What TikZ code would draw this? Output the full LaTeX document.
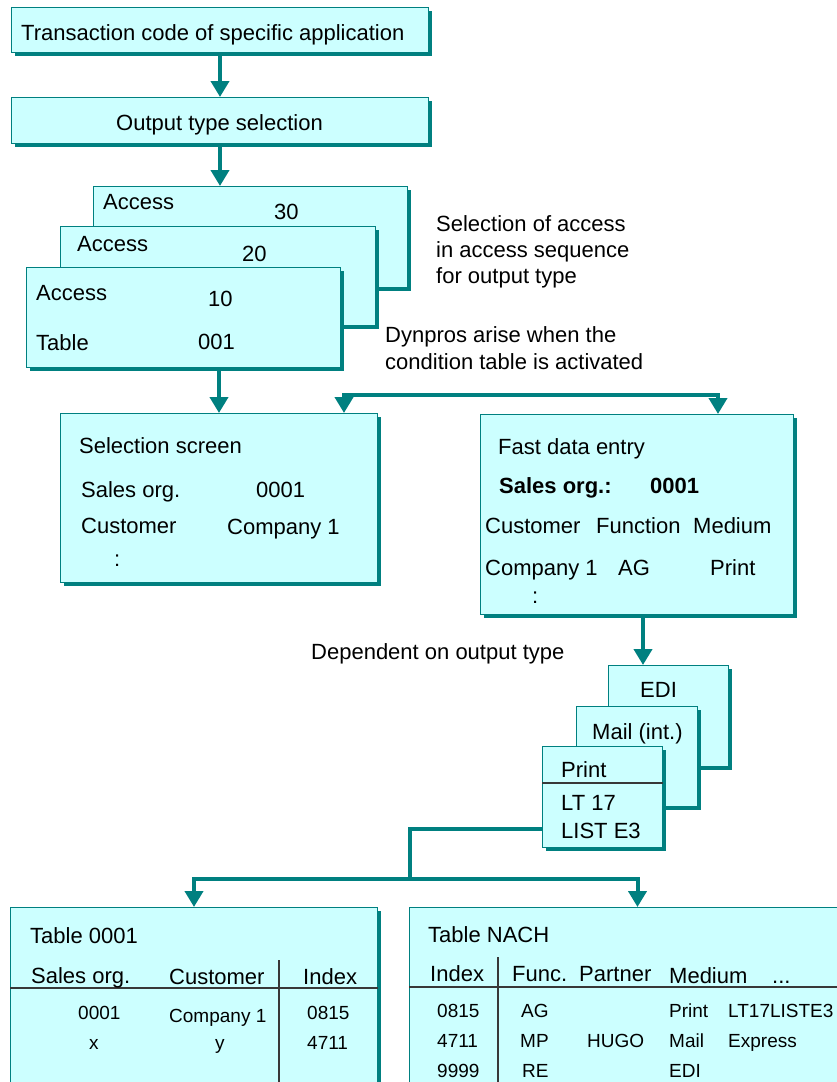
\documentclass[tikz,border=0pt]{standalone}
\usepackage{fontspec}
\setmainfont{Liberation Sans}
\usetikzlibrary{arrows.meta}
\usetikzlibrary{shadows}
\usetikzlibrary{calc}

\definecolor{tuerkis}{HTML}{008080}
\definecolor{hellcyan}{HTML}{CCFFFF}
\definecolor{gitterfarbe}{HTML}{383838}

\begin{document}
\begin{tikzpicture}[x=1pt, y=-1pt, >={Triangle[width=18pt,length=16pt]},
    box/.style={draw=tuerkis, line width=1pt, fill=hellcyan, inner sep=0pt, anchor=north west,
        drop shadow={shadow xshift=3.5pt, shadow yshift=-3.5pt, fill=tuerkis, opacity=1}},
    txt/.style={anchor=base west, inner sep=0pt, font=\fontsize{22}{26}\selectfont},
    klein/.style={anchor=base west, inner sep=0pt, font=\fontsize{19}{23}\selectfont},
    fluss/.style={draw=tuerkis, line width=4pt},
    gitter/.style={draw=gitterfarbe, line width=1.3pt}]

    \useasboundingbox (0,0) rectangle (837,1082);
    \clip (0,0) rectangle (837,1082);

    % Kaesten oben
    \node[box, minimum width=417pt, minimum height=45pt] (tcode) at (11,7) {};
    \node[box, minimum width=417pt, minimum height=46pt] (otsel) at (11,97) {};
    \node[txt] (tcodetxt) at (21,40) {Transaction code of specific application};
    \node[txt, anchor=base] (otseltxt) at (219.5,130) {Output type selection};

    % Zugriffsfolge
    \node[box, minimum width=314pt, minimum height=101pt] (acc30) at (93,186) {};
    \node[box, minimum width=315pt, minimum height=99pt] (acc20) at (60,226) {};
    \node[box, minimum width=314pt, minimum height=100pt] (acc10) at (26,267) {};
    \node[txt] (acc30a) at (103,209) {Access};
    \node[txt] (acc30b) at (274,219) {30};
    \node[txt] (acc20a) at (77,251) {Access};
    \node[txt] (acc20b) at (242,261) {20};
    \node[txt] (acc10a) at (36,300) {Access};
    \node[txt] (acc10b) at (208,306) {10};
    \node[txt] (tab10a) at (36,350) {Table};
    \node[txt] (tab10b) at (198,349) {001};

    \node[txt] (notiz1) at (436,231) {Selection of access};
    \node[txt] (notiz2) at (436,257) {in access sequence};
    \node[txt] (notiz3) at (436,283) {for output type};
    \node[txt] (notiz4) at (385,342) {Dynpros arise when the};
    \node[txt] (notiz5) at (385,369) {condition table is activated};

    % Dynpros
    \node[box, minimum width=317pt, minimum height=169pt] (sel) at (60,413) {};
    \node[txt] (sel1) at (79,453) {Selection screen};
    \node[txt] (sel2) at (81,497) {Sales org.};
    \node[txt] (sel3) at (256,497) {0001};
    \node[txt] (sel4) at (81,533) {Customer};
    \node[txt] (sel5) at (227,534) {Company 1};
    \node[txt] (sel6) at (114,566) {:};

    \node[box, minimum width=313pt, minimum height=200pt] (fde) at (480,414) {};
    \node[txt] (fde1) at (498,454) {Fast data entry};
    \node[txt, font=\fontsize{22}{26}\selectfont\bfseries] (fde2) at (499,493) {Sales org.:};
    \node[txt, font=\fontsize{22}{26}\selectfont\bfseries] (fde3) at (650,493) {0001};
    \node[txt] (fde4) at (485,533) {Customer};
    \node[txt] (fde5) at (596,533) {Function};
    \node[txt] (fde6) at (693,533) {Medium};
    \node[txt] (fde7) at (485,575) {Company 1};
    \node[txt] (fde8) at (618,575) {AG};
    \node[txt] (fde9) at (710,575) {Print};
    \node[txt] (fde10) at (532,603) {:};

    \node[txt] (notiz6) at (311,659) {Dependent on output type};

    % Nachrichtenarten
    \node[box, minimum width=120pt, minimum height=101pt] (edi) at (608,665) {};
    \node[box, minimum width=121pt, minimum height=100pt] (mail) at (576,706) {};
    \node[box, minimum width=120pt, minimum height=101pt] (prt) at (542,746) {};
    \draw[gitter] (prt.west |- 0,783) -- (prt.east |- 0,783);
    \node[txt] (edi1) at (640,697) {EDI};
    \node[txt] (mail1) at (592,739) {Mail (int.)};
    \node[txt] (prt1) at (561,777) {Print};
    \node[txt] (prt2) at (561,810) {LT 17};
    \node[txt] (prt3) at (561,838) {LIST E3};

    % Tabellen
    \node[box, minimum width=367pt, minimum height=200pt] (t1) at (10,907) {};
    \node[box, minimum width=456pt, minimum height=200pt] (t2) at (409,907) {};
    \draw[gitter] (t1.west |- 0,988) -- (t1.east |- 0,988);
    \draw[gitter] (279,960) -- (279,1082);
    \draw[gitter] (t2.west |- 0,987) -- (837,987);
    \draw[gitter] (498,957) -- (498,1082);

    \node[txt] (t1a) at (30,943) {Table 0001};
    \node[txt] (t1b) at (31,983) {Sales org.};
    \node[txt] (t1c) at (169,984) {Customer};
    \node[txt] (t1d) at (303,984) {Index};
    \node[klein] (t1e) at (78,1019) {0001};
    \node[klein] (t1f) at (169,1022) {Company 1};
    \node[klein] (t1g) at (307,1019) {0815};
    \node[klein] (t1h) at (89,1049) {x};
    \node[klein] (t1i) at (215,1049) {y};
    \node[klein] (t1j) at (307,1049) {4711};

    \node[txt] (t2a) at (428,942) {Table NACH};
    \node[txt] (t2b) at (430,981) {Index};
    \node[txt] (t2c) at (512,981) {Func.};
    \node[txt] (t2d) at (579,981) {Partner};
    \node[txt] (t2e) at (669,983) {Medium};
    \node[txt] (t2f) at (772,983) {...};
    \node[klein] (r1a) at (437,1017) {0815};
    \node[klein] (r1b) at (521,1017) {AG};
    \node[klein] (r1c) at (669,1017) {Print};
    \node[klein] (r1d) at (728,1017) {LT17LISTE3};
    \node[klein] (r2a) at (437,1047) {4711};
    \node[klein] (r2b) at (520,1047) {MP};
    \node[klein] (r2c) at (587,1047) {HUGO};
    \node[klein] (r2d) at (669,1047) {Mail};
    \node[klein] (r2e) at (728,1047) {Express};
    \node[klein] (r3a) at (437,1077) {9999};
    \node[klein] (r3b) at (522,1077) {RE};
    \node[klein] (r3c) at (669,1077) {EDI};

    % Pfeile
    \draw[fluss, ->] (tcode.south) -- (otsel.north);
    \draw[fluss, ->] (otsel.south) -- (otsel.south |- acc30.north);
    \draw[fluss, ->] (sel.north |- acc10.south) -- (sel.north);
    \draw[fluss, <->] ([xshift=-34pt]sel.north east) -- ++(0,-18) -| ([xshift=-76pt]fde.north east);
    \draw[fluss, ->] ([xshift=6pt]fde.south) -- ([xshift=6pt]fde.south |- edi.north);
    \coordinate (gabel) at (410,879);
    \draw[fluss] ([yshift=-31.5pt]prt.west) -| (gabel);
    \draw[fluss, <->] (t1.north) |- (gabel) -| (t2.north);
\end{tikzpicture}
\end{document}
